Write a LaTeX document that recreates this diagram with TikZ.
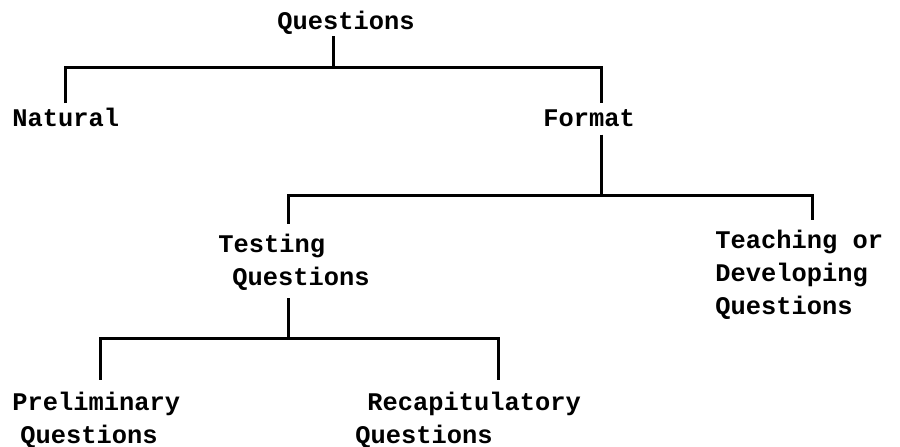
\documentclass[tikz,border=0pt]{standalone}
\usepackage{fontspec}
\setmonofont{Liberation Mono}
\begin{document}
\begin{tikzpicture}[x=0.5pt,y=-0.5pt,
    label/.style={font=\ttfamily\bfseries\fontsize{12.7}{16.3}\selectfont,
        inner sep=0pt, anchor=base west, align=left},
    branch/.style={line width=1.5pt}]

\useasboundingbox (0,0) rectangle (900,446);

% text of the tree (base = last line)
\node[label] (top) at (277,29) {Questions};
\node[label] (natural) at (12,126) {Natural};
\node[label] (format) at (543,126) {Format};
\node[label] (testing) at (218,285) {Testing\\\hspace*{7pt}Questions};
\node[label] (teaching) at (715,314) {Teaching or\\Developing\\Questions};
\node[label] (prelim) at (12,443) {Preliminary\\\hspace*{4pt}Questions};
\node[label] (recap) at (355,443) {\hspace*{6pt}Recapitulatory\\Questions};

% corners of the bars
\coordinate (s1) at (333,67);
\coordinate (b1l) at (65,67);
\coordinate (b1r) at (601,67);
\coordinate (b2l) at (288,195);
\coordinate (b2r) at (812,195);
\coordinate (b3l) at (100,338);
\coordinate (b3r) at (498,338);

\draw[branch, shorten <=1pt] (top.south -| s1) -- (s1);
\draw[branch, shorten <=2pt, shorten >=3pt]
    (natural.north -| b1l) -- (b1l) -- (b1r) -- (format.north -| b1r);

\draw[branch, shorten <=4pt] (format.south -| b1r) -- (b1r |- b2l);
\draw[branch, shorten <=5pt, shorten >=5pt]
    (testing.north -| b2l) -- (b2l) -- (b2r) -- (teaching.north -| b2r);

\draw[branch, shorten <=4pt] (testing.south -| b2l) -- (b2l |- b3l);
\draw[branch, shorten <=6pt, shorten >=6pt]
    (prelim.north -| b3l) -- (b3l) -- (b3r) -- (recap.north -| b3r);

\end{tikzpicture}
\end{document}
